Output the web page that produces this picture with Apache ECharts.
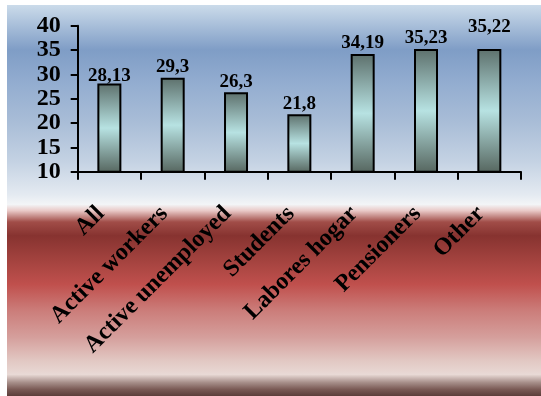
<!DOCTYPE html>
<html>
<head>
<meta charset="utf-8">
<script src="https://cdn.jsdelivr.net/npm/echarts@6/dist/echarts.min.js"></script>
<style>
  html, body { margin: 0; padding: 0; background: #ffffff; }
  #wrap { position: relative; width: 541px; height: 396px; overflow: hidden; }
  #bg {
    position: absolute; left: 7px; top: 5px; right: 0; bottom: 0;
    background: linear-gradient(to bottom,
      #cbdbea 0%, #7f9dc6 11.5%, #93add0 20%, #a9bdd7 30%, #c4d2e3 40%,
      #e4eaf1 48.5%, #f3f5f7 51%, #e9c9c7 52.6%, #a14d48 55.5%, #873330 59%,
      #a2423e 65%, #c0504d 71.5%, #cb7c79 78%, #d59f9c 85%, #e2c8c3 91%,
      #e8d9d5 94.5%, #a8908b 96.5%, #7a5a55 98.3%, #5c3e3a 100%);
  }
  #chart { position: absolute; left: 0; top: 0; width: 541px; height: 396px; }
</style>
</head>
<body>
<div id="wrap">
  <div id="bg"></div>
  <div id="chart"></div>
</div>
<script>
// Mean age by activity group
const categories = ['All', 'Active workers', 'Active unemployed', 'Students', 'Labores hogar', 'Pensioners', 'Other'];
const values = [28.13, 29.3, 26.3, 21.8, 34.19, 35.23, 35.22];
const valueLabels = ['28,13', '29,3', '26,3', '21,8', '34,19', '35,23', '35,22'];
const yTicks = [10, 15, 20, 25, 30, 35, 40];

const serif = '"Liberation Serif", "Times New Roman", serif';

// label nudges so neighbouring value labels stay readable
const labelOffsets = [[0, 3], [0, 0], [0, 0], [0, 0], [0, 0], [0, 0], [0, -11]];

const barFill = {
  type: 'linear', x: 0, y: 0, x2: 0, y2: 1,
  colorStops: [
    { offset: 0, color: '#5d706c' },
    { offset: 0.5, color: '#b7e2e2' },
    { offset: 1, color: '#56665f' }
  ]
};

const chart = echarts.init(document.getElementById('chart'), null, { renderer: 'canvas' });
chart.setOption({
  backgroundColor: 'transparent',
  animation: false,
  grid: { left: 77.7, right: 20, top: 25.7, bottom: 224.3, containLabel: false },
  xAxis: {
    type: 'category',
    data: categories,
    boundaryGap: true,
    axisLine: { lineStyle: { color: '#000', width: 2 } },
    axisTick: { show: true, length: 8, lineStyle: { color: '#000', width: 2 } },
    axisLabel: {
      rotate: 45,
      interval: 0,
      margin: 30,
      padding: [0, 12, 0, 0],
      color: '#000',
      fontFamily: serif,
      fontWeight: 'bold',
      fontSize: 24
    },
    splitLine: { show: false }
  },
  yAxis: {
    type: 'value',
    min: yTicks[0],
    max: yTicks[yTicks.length - 1],
    interval: 5,
    axisLine: { show: true, lineStyle: { color: '#000', width: 2 } },
    axisTick: { show: true, length: 7, lineStyle: { color: '#000', width: 2 } },
    axisLabel: {
      margin: 17,
      color: '#000',
      fontFamily: serif,
      fontWeight: 'bold',
      fontSize: 24
    },
    splitLine: { show: false }
  },
  series: [{
    type: 'bar',
    barWidth: 24,
    data: values.map((v, i) => ({
      value: v,
      label: { offset: labelOffsets[i] }
    })),
    itemStyle: { color: barFill, borderColor: '#000', borderWidth: 2 },
    label: {
      show: true,
      position: 'top',
      distance: 1,
      color: '#000',
      fontFamily: serif,
      fontWeight: 'bold',
      fontSize: 19,
      formatter: p => valueLabels[p.dataIndex]
    }
  }]
});
</script>
</body>
</html>
